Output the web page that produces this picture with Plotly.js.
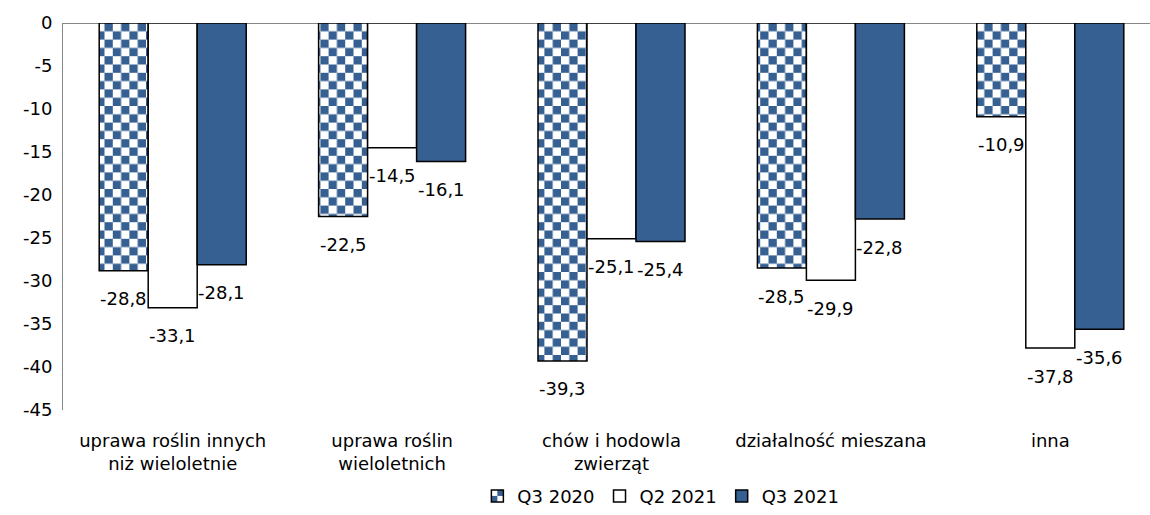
<!DOCTYPE html>
<html><head><meta charset="utf-8">
<script src="https://cdn.plot.ly/plotly-3.0.1.min.js"></script>
<style>html,body{margin:0;padding:0;overflow:hidden;background:#fff}#chart{width:1160px;height:515px}</style>
</head><body><div id="chart"></div>
<script>
const categories = ["uprawa roślin innych<br>niż wieloletnie", "uprawa roślin<br>wieloletnich", "chów i hodowla<br>zwierząt", "działalność mieszana", "inna"];
const seriesNames = ["Q3 2020", "Q2 2021", "Q3 2021"];
const q3_2020 = [-28.8, -22.5, -39.3, -28.5, -10.9];
const q2_2021 = [-33.1, -14.5, -25.1, -29.9, -37.8];
const q3_2021 = [-28.1, -16.1, -25.4, -22.8, -35.6];
const yTickVals = [0, -5, -10, -15, -20, -25, -30, -35, -40, -45];
const yTickText = ["0", "-5", "-10", "-15", "-20", "-25", "-30", "-35", "-40", "-45"];

const BLUE = "#366092";
const FONT = "DejaVu Sans";
const FS = 18;
const BARGAP = 0.33;
const fmt = v => v.toFixed(1).replace(".", ",");
const allSeries = [q3_2020, q2_2021, q3_2021];

function barTrace(name, vals, fill) {
  return {
    type: "bar", name: name, x: categories, y: vals,
    marker: {color: fill, line: {color: "#000", width: 1.5}},
    hoverinfo: "skip"
  };
}

const data = [
  barTrace(seriesNames[0], q3_2020, BLUE),
  barTrace(seriesNames[1], q2_2021, "#ffffff"),
  barTrace(seriesNames[2], q3_2021, BLUE)
];

const layout = {
  width: 1160, height: 515,
  margin: {l: 63, r: 0, t: 23, b: 104},
  paper_bgcolor: "#fff", plot_bgcolor: "#fff",
  font: {family: FONT, size: FS, color: "#000"},
  barmode: "group", bargap: BARGAP, bargroupgap: 0,
  showlegend: true,
  legend: {orientation: "h", x: 0.545, xanchor: "center", y: -0.175, yanchor: "top",
           font: {family: FONT, size: FS, color: "#000"}, itemwidth: 30, traceorder: "normal"},
  xaxis: {showline: false, showgrid: false, zeroline: false,
          ticks: "outside", ticklen: 14, tickcolor: "rgba(0,0,0,0)",
          tickfont: {family: FONT, size: FS, color: "#000"}},
  yaxis: {range: [-45, 0], tickvals: yTickVals, ticktext: yTickText,
          showline: true, linecolor: "#868686", linewidth: 1,
          zeroline: true, zerolinecolor: "#868686", zerolinewidth: 1,
          showgrid: false, ticks: "", ticklen: 0, ticklabelstandoff: 6,
          tickfont: {family: FONT, size: FS, color: "#000"}}
};

function applyPattern(gd) {
  const svg = gd.querySelector("svg.main-svg");
  const ns = "http://www.w3.org/2000/svg";
  if (!svg.querySelector("#checker")) {
    let defs = svg.querySelector("defs");
    if (!defs) { defs = document.createElementNS(ns, "defs"); svg.insertBefore(defs, svg.firstChild); }
    const s = 8.3;
    const pat = document.createElementNS(ns, "pattern");
    pat.setAttribute("id", "checker");
    pat.setAttribute("patternUnits", "userSpaceOnUse");
    pat.setAttribute("width", 2 * s); pat.setAttribute("height", 2 * s);
    pat.innerHTML = `<rect x="0" y="0" width="${2*s}" height="${2*s}" fill="#fff"/>` +
      `<rect x="${s}" y="0" width="${s}" height="${s}" fill="${BLUE}"/>` +
      `<rect x="0" y="${s}" width="${s}" height="${s}" fill="${BLUE}"/>`;
    defs.appendChild(pat);
  }
  const traces = gd.querySelectorAll(".barlayer .trace.bars");
  if (traces[0]) traces[0].querySelectorAll(".point path").forEach(p => { p.style.fill = "url(#checker)"; });
  const legendPts = gd.querySelectorAll(".legend .traces");
  if (legendPts[0]) legendPts[0].querySelectorAll(".legendpoints path").forEach(p => { p.style.fill = "url(#checker)"; });
}

Plotly.newPlot("chart", data, layout, {staticPlot: true}).then(gd => {
  const xa = gd._fullLayout.xaxis;
  const barW = xa._length / categories.length * (1 - BARGAP) / allSeries.length;
  const annotations = [];
  allSeries.forEach((vals, si) => {
    vals.forEach((v, ci) => {
      annotations.push({
        x: categories[ci], y: v, xref: "x", yref: "y",
        text: fmt(v), showarrow: false,
        xshift: (si - (allSeries.length - 1) / 2) * barW, yshift: -28,
        xanchor: "center", yanchor: "middle",
        font: {family: FONT, size: FS, color: "#000"}
      });
    });
  });
  return Plotly.relayout(gd, {annotations: annotations});
}).then(gd => applyPattern(document.getElementById("chart")));
</script></body></html>
